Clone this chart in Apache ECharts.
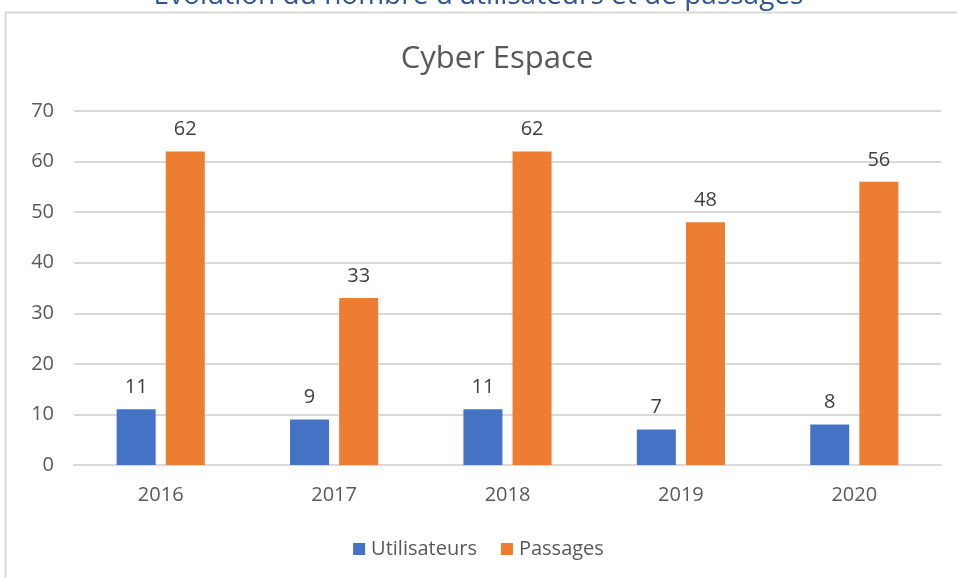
<!DOCTYPE html>
<html>
<head>
<meta charset="utf-8">
<script src="https://cdn.jsdelivr.net/npm/echarts@6/dist/echarts.min.js"></script>
<style>
    html, body { margin: 0; padding: 0; background: #fff; }
    #chart1 { width: 957px; height: 578px; }
</style>
</head>
<body>
<div id="chart1"></div>
<script>
// données
const years = ['2016', '2017', '2018', '2019', '2020']
const utilisateurs = [11, 9, 11, 7, 8]
const passages = [62, 33, 62, 48, 56]
const yTicks = [0, 10, 20, 30, 40, 50, 60, 70]

const fontFam = '"Open Sans", "Noto Sans", sans-serif'
const axisFontColor = '#595959'
const splitColor = '#D9D9D9'

const chart1 = echarts.init(document.getElementById('chart1'))

const labelStyle = {
    show: true,
    position: 'top',
    distance: 12,
    color: '#404040',
    fontSize: 20,
    fontFamily: fontFam
}

const option = {
    animation: false,
    color: ['#4472C4', '#ED7D31'],
    title: {
        text: 'Cyber Espace',
        left: 492,
        textAlign: 'center',
        top: 39,
        textStyle: {
            color: axisFontColor,
            fontSize: 31,
            fontWeight: 'normal',
            fontFamily: fontFam
        }
    },
    graphic: [
        {
            // cadre du graphique
            type: 'rect',
            shape: { x: 5.5, y: 12.5, width: 1000, height: 700 },
            style: { fill: 'none', stroke: splitColor, lineWidth: 2 },
            silent: true
        },
        {
            // titre coupé en haut
            type: 'text',
            left: 'center',
            top: -18,
            style: {
                text: 'Evolution du nombre d\'utilisateurs et de passages',
                fill: '#2F5597',
                fontSize: 28,
                fontFamily: fontFam
            },
            silent: true
        }
    ],
    legend: {
        bottom: 14,
        left: 'center',
        itemWidth: 12,
        itemHeight: 12,
        itemGap: 24,
        icon: 'rect',
        textStyle: {
            color: axisFontColor,
            fontSize: 20,
            fontFamily: fontFam,
            padding: [0, 0, 0, 1]
        },
        data: ['Utilisateurs', 'Passages']
    },
    grid: {
        left: 74,
        right: 16,
        top: 111,
        bottom: 113,
        containLabel: false
    },
    xAxis: {
        type: 'category',
        data: years,
        axisLine: { lineStyle: { color: splitColor, width: 2 } },
        axisTick: { show: false },
        axisLabel: {
            color: axisFontColor,
            fontSize: 20,
            fontFamily: fontFam,
            margin: 20
        }
    },
    yAxis: {
        type: 'value',
        min: yTicks[0],
        max: yTicks[yTicks.length - 1],
        interval: 10,
        axisLine: { show: false },
        axisTick: { show: false },
        axisLabel: {
            color: axisFontColor,
            fontSize: 20,
            fontFamily: fontFam,
            margin: 20
        },
        splitLine: { lineStyle: { color: splitColor, width: 2 } }
    },
    series: [
        {
            name: 'Utilisateurs',
            type: 'bar',
            barWidth: 39,
            barGap: '26%',
            label: labelStyle,
            data: utilisateurs
        },
        {
            name: 'Passages',
            type: 'bar',
            barWidth: 39,
            barGap: '26%',
            label: labelStyle,
            data: passages
        }
    ]
}

chart1.setOption(option)
</script>
</body>
</html>
